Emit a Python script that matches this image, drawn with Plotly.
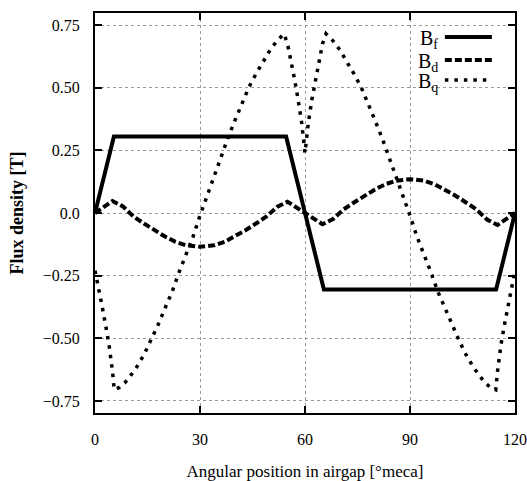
import plotly.graph_objects as go

# ---- data ----
bf_x = [0, 5.4, 54.6, 65.4, 114.6, 120]
bf_y = [0, 0.305, 0.305, -0.305, -0.305, 0]

bd_x = [0, 5, 8, 11, 14, 17, 20, 23, 26, 30, 34, 37, 40, 43, 46, 49, 52, 55, 60,
        65, 68, 71, 74, 77, 80, 83, 86, 90, 94, 97, 100, 103, 106, 109, 112, 115, 120]
bd_y = [0, 0.048, 0.026, -0.014, -0.042, -0.069, -0.094, -0.115, -0.129, -0.135,
        -0.129, -0.115, -0.094, -0.069, -0.042, -0.014, 0.024, 0.045, 0,
        -0.045, -0.024, 0.014, 0.042, 0.069, 0.094, 0.115, 0.129, 0.135,
        0.129, 0.115, 0.094, 0.069, 0.042, 0.014, -0.026, -0.048, 0]

bq_x = [0, 1, 2, 3, 4, 5, 5.5, 7, 8.5, 10, 12, 14, 16, 18, 20, 22, 24, 26, 28, 30,
        32, 34, 36, 38, 40, 42, 44, 46, 48, 50, 52, 54, 55, 56, 57, 58, 59, 60,
        61, 62, 63, 64, 65, 66, 68, 70, 72, 74, 76, 78, 80, 82, 84, 86, 88, 90,
        92, 94, 96, 98, 100, 102, 104, 106, 108, 110, 111.5, 113, 114.5, 115, 116, 117, 118, 119, 120]
bq_y = [-0.23, -0.31, -0.37, -0.445, -0.525, -0.632, -0.705, -0.696, -0.678, -0.652,
        -0.613, -0.565, -0.508, -0.447, -0.38, -0.315, -0.237, -0.163, -0.095, -0.01,
        0.07, 0.15, 0.225, 0.30, 0.37, 0.44, 0.503, 0.555, 0.605, 0.65, 0.687, 0.715,
        0.675, 0.61, 0.535, 0.455, 0.365, 0.24,
        0.365, 0.455, 0.535, 0.61, 0.675, 0.715, 0.687, 0.65, 0.605, 0.555, 0.503,
        0.44, 0.37, 0.30, 0.225, 0.15, 0.07, -0.01,
        -0.095, -0.163, -0.237, -0.315, -0.38, -0.447, -0.508, -0.565, -0.613, -0.652,
        -0.678, -0.696, -0.705, -0.632, -0.525, -0.445, -0.37, -0.31, -0.23]

x_ticks = [0, 30, 60, 90, 120]
y_ticks = [0.75, 0.5, 0.25, 0.0, -0.25, -0.5, -0.75]
y_tick_text = ["0.75", "0.50", "0.25", "0.0", "\u22120.25", "\u22120.50", "\u22120.75"]
legend_names = ["B<sub>f</sub>", "B<sub>d</sub>", "B<sub>q</sub>"]

FONT = "'Liberation Serif', 'Times New Roman', Times, serif"
styles = [dict(color="black", width=4),
          dict(color="black", width=4, dash="7px,3px"),
          dict(color="black", width=3.5, dash="3.5px,6px")]

fig = go.Figure()
for xs, ys, st, nm in [(bf_x, bf_y, styles[0], legend_names[0]),
                       (bd_x, bd_y, styles[1], legend_names[1]),
                       (bq_x, bq_y, styles[2], legend_names[2])]:
    fig.add_trace(go.Scatter(x=xs, y=ys, mode="lines", line=st, name=nm,
                             showlegend=False, hoverinfo="skip"))

# white box behind legend (hides the grid there)
fig.add_shape(type="rect", xref="paper", yref="paper", x0=0.67, x1=0.97, y0=0.805, y1=0.965,
              fillcolor="white", line=dict(width=0), layer="between")

leg_y = [0.94, 0.8825, 0.8325]
for yy, st, nm in zip(leg_y, styles, legend_names):
    fig.add_shape(type="line", xref="paper", yref="paper", x0=0.833, x1=0.945, y0=yy, y1=yy,
                  line=st)
    fig.add_annotation(xref="paper", yref="paper", x=0.822, y=yy - 0.005, text=nm,
                       showarrow=False, xanchor="right", yanchor="middle",
                       font=dict(family=FONT, size=20, color="black"))

axis_common = dict(showline=True, linewidth=2, linecolor="black", mirror="ticks",
                   ticks="inside", ticklen=7, tickwidth=2, tickcolor="black",
                   showgrid=True, gridcolor="#9a9a9a", griddash="dot", gridwidth=1,
                   zeroline=False, automargin=False,
                   tickfont=dict(family=FONT, size=16, color="black"))

fig.update_xaxes(range=[0, 120], tickvals=x_ticks, ticklabelstandoff=11,
                 title=dict(text="Angular position in airgap [\u00b0meca]",
                            font=dict(family=FONT, size=17, color="black"), standoff=18),
                 **axis_common)
fig.update_yaxes(range=[-0.798, 0.798], tickvals=y_ticks, ticktext=y_tick_text,
                 ticklabelstandoff=10,
                 title=dict(text="<b>Flux density [T]</b>",
                            font=dict(family=FONT, size=18, color="black"), standoff=14),
                 **axis_common)

fig.update_layout(width=527, height=481, margin=dict(l=95, r=12, t=13, b=68),
                  plot_bgcolor="white", paper_bgcolor="white", showlegend=False,
                  font=dict(family=FONT))

fig.write_html("out.html", config={"displayModeBar": False},
               post_script="document.body.style.margin='0';document.body.style.overflow='hidden';")
